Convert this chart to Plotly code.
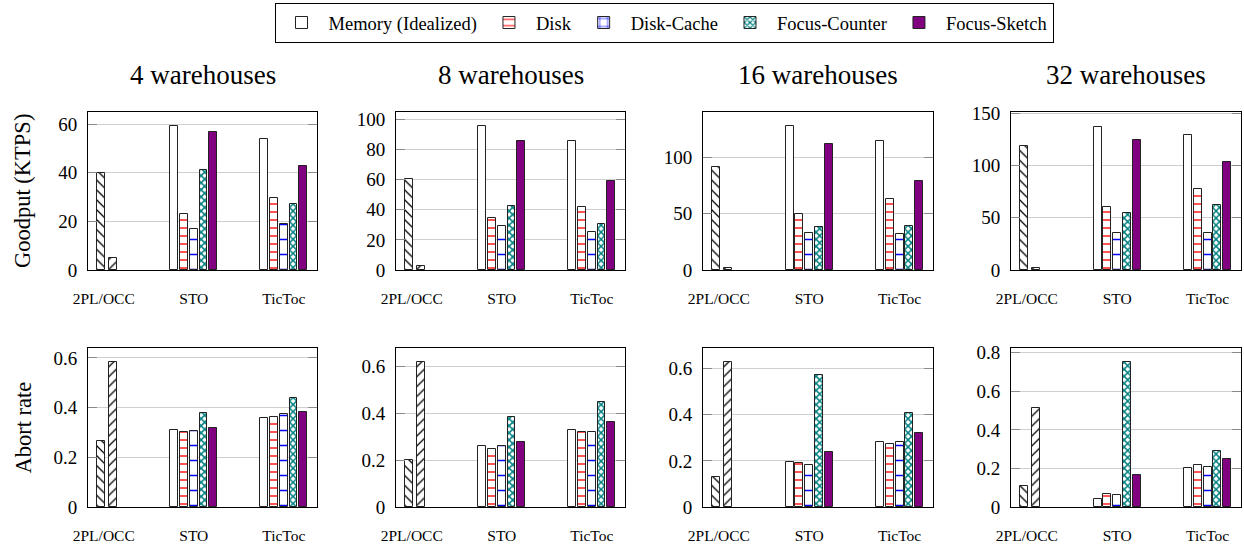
import plotly.graph_objects as go

# ---- data -----------------------------------------------------------------
categories = ["2PL/OCC", "STO", "TicToc"]
panel_titles = ["4 warehouses", "8 warehouses", "16 warehouses", "32 warehouses"]
series_names = ["Memory (Idealized)", "Disk", "Disk-Cache", "Focus-Counter", "Focus-Sketch"]

# Goodput (KTPS); one [STO, TicToc] pair per warehouse count
goodput_2pl = [40.1, 60.5, 91.0, 118.9]
goodput_occ = [4.8, 2.9, 1.5, 1.6]
goodput_memory = [[59.2, 54.1], [95.8, 85.8], [127.3, 114.1], [136.2, 128.6]]
goodput_disk = [[23.1, 29.6], [34.3, 42.0], [50.0, 63.2], [60.4, 77.1]]
goodput_disk_cache = [[17.0, 19.0], [29.2, 25.4], [33.2, 31.8], [35.5, 35.5]]
goodput_focus_counter = [[41.2, 27.0], [42.5, 30.7], [37.9, 39.1], [54.1, 62.6]]
goodput_focus_sketch = [[56.6, 42.9], [85.4, 58.9], [112.0, 79.1], [124.5, 102.8]]

# Abort rate
abort_2pl = [0.266, 0.199, 0.132, 0.109]
abort_occ = [0.583, 0.621, 0.629, 0.514]
abort_memory = [[0.308, 0.358], [0.260, 0.330], [0.196, 0.284], [0.041, 0.202]]
abort_disk = [[0.302, 0.362], [0.250, 0.322], [0.190, 0.272], [0.067, 0.218]]
abort_disk_cache = [[0.306, 0.373], [0.260, 0.320], [0.183, 0.281], [0.062, 0.208]]
abort_focus_counter = [[0.378, 0.439], [0.385, 0.449], [0.572, 0.407], [0.750, 0.292]]
abort_focus_sketch = [[0.316, 0.382], [0.280, 0.365], [0.239, 0.322], [0.168, 0.249]]

goodput_ticks = [20, 20, 50, 50]
abort_ticks = [0.2, 0.2, 0.2, 0.2]
goodput_ranges = [[0, 65], [0, 105], [0, 140], [0, 151]]
abort_ranges = [[0, 0.64], [0, 0.68], [0, 0.69], [0, 0.825]]

# ---- styling --------------------------------------------------------------
W, H = 1244, 548
FONT = "Liberation Serif, Times New Roman, Nimbus Roman, DejaVu Serif, serif"
col_px = [(88, 317), (396, 625), (703, 933), (1011, 1241)]
row_px = [(112, 270), (348, 507)]

BAR_W = 0.088
SLOT = 0.108
slot_centers = [-2 * SLOT, -SLOT, 0.0, SLOT, 2 * SLOT]
pl_center, occ_center = -0.027, 0.100

edge = dict(color="#222222", width=1)
series_markers = [
    dict(color="white", line=edge),
    dict(color="white", line=edge,
         pattern=dict(shape="-", fgcolor="#ff5555", bgcolor="white", size=8,
                      solidity=0.25, fgopacity=1)),
    dict(color="white", line=edge,
         pattern=dict(shape="+", fgcolor="#0000ff", bgcolor="white", size=15,
                      solidity=0.16, fgopacity=1)),
    dict(color="white", line=edge,
         pattern=dict(shape="x", fgcolor="#008080", bgcolor="white", size=5,
                      solidity=0.5, fgopacity=1)),
    dict(color="#800080", line=edge),
]
pl_marker = dict(color="white", line=edge,
                 pattern=dict(shape="\\", fgcolor="black", bgcolor="white", size=7,
                              solidity=0.18, fgopacity=1))
occ_marker = dict(color="white", line=edge,
                  pattern=dict(shape="/", fgcolor="black", bgcolor="white", size=7,
                               solidity=0.18, fgopacity=1))

fig = go.Figure()

rows = [
    (goodput_2pl, goodput_occ,
     [goodput_memory, goodput_disk, goodput_disk_cache, goodput_focus_counter, goodput_focus_sketch],
     goodput_ranges, goodput_ticks),
    (abort_2pl, abort_occ,
     [abort_memory, abort_disk, abort_disk_cache, abort_focus_counter, abort_focus_sketch],
     abort_ranges, abort_ticks),
]

layout_axes = {}
for r, (v2pl, vocc, series_vals, yranges, yticks) in enumerate(rows):
    for c in range(4):
        k = r * 4 + c + 1
        xs = "x" if k == 1 else f"x{k}"
        ys = "y" if k == 1 else f"y{k}"
        # 2PL and OCC bars share the first category
        fig.add_trace(go.Bar(x=[0], y=[v2pl[c]], width=BAR_W, offset=pl_center - BAR_W / 2,
                             marker=pl_marker, showlegend=False, name="2PL",
                             xaxis=xs, yaxis=ys))
        fig.add_trace(go.Bar(x=[0], y=[vocc[c]], width=BAR_W, offset=occ_center - BAR_W / 2,
                             marker=occ_marker, showlegend=False, name="OCC",
                             xaxis=xs, yaxis=ys))
        for s, name in enumerate(series_names):
            fig.add_trace(go.Bar(x=[1, 2], y=series_vals[s][c], width=BAR_W,
                                 offset=slot_centers[s] - BAR_W / 2,
                                 marker=series_markers[s], name=name, legendgroup=name,
                                 showlegend=(k == 1), xaxis=xs, yaxis=ys))

        x0, x1 = col_px[c]
        y0, y1 = row_px[r]
        layout_axes["xaxis" if k == 1 else f"xaxis{k}"] = dict(
            domain=[x0 / W, x1 / W], anchor=ys, range=[-0.175, 2.369],
            tickvals=[0, 1, 2], ticktext=categories, ticks="", showgrid=False,
            zeroline=False, showline=True, mirror=True, linecolor="black", linewidth=1,
            tickfont=dict(family=FONT, size=15.5, color="black"), ticklabelstandoff=14,
            automargin=False, fixedrange=True)
        layout_axes["yaxis" if k == 1 else f"yaxis{k}"] = dict(
            domain=[1 - y1 / H, 1 - y0 / H], anchor=xs, range=yranges[c], dtick=yticks[c],
            tick0=0, showgrid=True, gridcolor="#cfcfcf", gridwidth=1, zeroline=False,
            showline=True, mirror="ticks", linecolor="black", linewidth=1,
            ticks="inside", ticklen=9, tickcolor="#8a8a8a", tickwidth=1,
            tickfont=dict(family=FONT, size=19, color="black"), ticklabelstandoff=6,
            automargin=False, fixedrange=True)

annotations = []
for c, title in enumerate(panel_titles):
    x0, x1 = col_px[c]
    annotations.append(dict(text=title, x=(x0 + x1) / 2 / W, y=1 - 75 / H,
                            xref="paper", yref="paper", xanchor="center", yanchor="middle",
                            showarrow=False, font=dict(family=FONT, size=27, color="black")))
for label, (y0, y1) in zip(["Goodput (KTPS)", "Abort rate"], row_px):
    annotations.append(dict(text=label, x=23 / W, y=1 - (y0 + y1) / 2 / H, textangle=-90,
                            xref="paper", yref="paper", xanchor="center", yanchor="middle",
                            showarrow=False, font=dict(family=FONT, size=22.5, color="black")))

fig.update_layout(
    width=W, height=H, margin=dict(l=0, r=0, t=0, b=0, autoexpand=False),
    paper_bgcolor="white", plot_bgcolor="white",
    barmode="overlay", bargap=0,
    font=dict(family=FONT, color="black"),
    legend=dict(orientation="h", x=664 / W, xanchor="center", y=1 - 3 / H, yanchor="top",
                bordercolor="black", borderwidth=1, bgcolor="white",
                font=dict(family=FONT, size=18.5, color="black"),
                itemwidth=44, tracegroupgap=0),
    annotations=annotations,
    **layout_axes,
)

fig.write_html("out.html")
